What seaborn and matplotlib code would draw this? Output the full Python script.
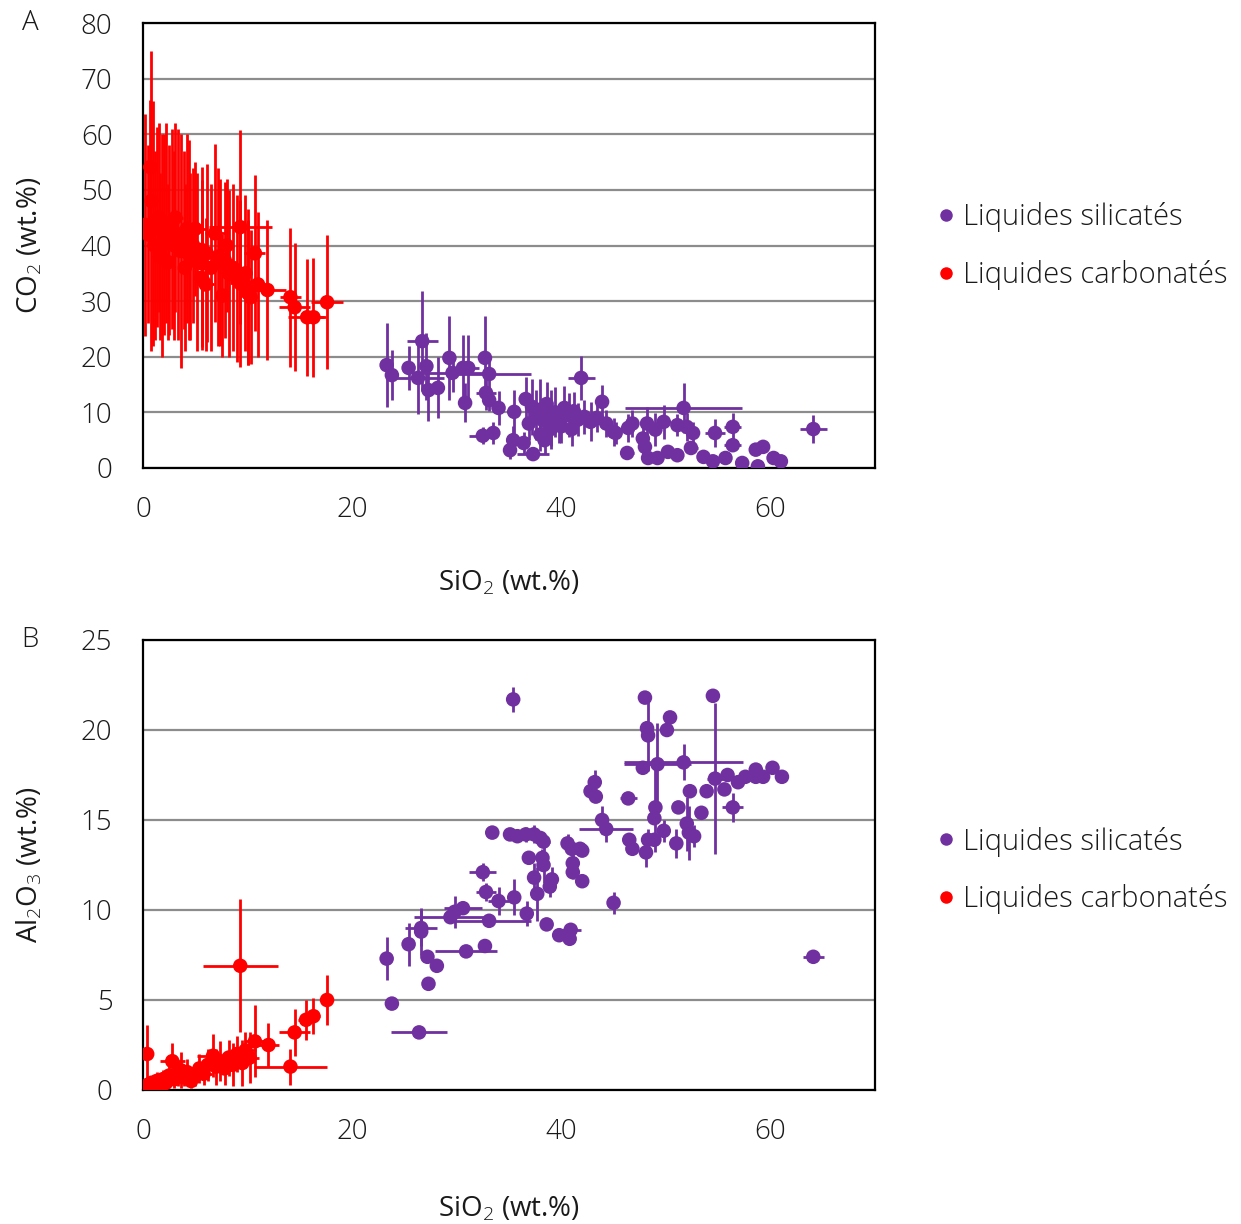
import matplotlib
matplotlib.use("Agg")
import matplotlib.pyplot as plt
from matplotlib.lines import Line2D
import seaborn as sns
import pandas as pd

# ---------------- Panel A : CO2 vs SiO2 ----------------
# silicate liquids
sil_a_sio2 = [23.3, 23.8, 25.4, 26.7, 26.3, 27.1, 27.3, 28.2, 29.3, 29.6, 30.6, 31.1, 30.8, 32.7, 33.1,
              32.8, 34.0, 35.5, 32.5, 33.5, 35.4, 35.1, 36.4, 37.3, 36.6, 41.9, 43.9, 45.2,
              37.2, 37.6, 38.0, 38.3, 38.6, 39.0, 39.4, 39.8, 40.3, 40.7, 41.2, 41.6, 42.2, 42.8, 43.4,
              44.3, 38.0, 38.4, 39.0, 36.9, 40.0, 41.0, 45.0, 46.4, 46.3, 46.8, 47.8, 48.2, 48.0, 48.3,
              49.2, 49.0, 49.8, 50.2, 51.1, 51.7, 51.1, 52.0, 52.6, 52.4, 53.6, 54.5, 54.7, 56.4, 56.4,
              55.7, 57.3, 58.8, 58.6, 59.3, 60.3, 61.0, 64.1, 33.1]
sil_a_co2 = [18.5, 16.7, 18.0, 22.8, 16.2, 18.3, 14.0, 14.4, 19.8, 17.1, 18.0, 18.0, 11.7, 19.8, 16.9,
             13.5, 10.8, 10.1, 5.8, 6.3, 5.0, 3.2, 4.5, 2.5, 12.4, 16.2, 11.9, 6.3,
             11.0, 9.5, 10.5, 8.5, 11.5, 9.0, 10.0, 8.0, 10.8, 9.5, 10.2, 8.7, 9.2, 8.3, 9.0,
             8.0, 6.0, 5.0, 7.0, 8.0, 7.5, 7.0, 6.5, 7.2, 2.7, 8.0, 5.3, 8.0, 3.8, 1.8,
             1.8, 6.9, 8.3, 2.9, 2.3, 10.8, 7.7, 7.4, 6.3, 3.6, 2.0, 1.2, 6.3, 7.4, 4.1,
             1.8, 0.9, 0.3, 3.3, 3.8, 1.8, 1.2, 7.0, 12.2]
sil_a_xerr = [0, 0, 0.5, 1.5, 2.5, 0, 0, 0.5, 0.5, 3.5, 0.5, 1.0, 0, 0.5, 4.0,
              1.0, 0, 0, 1.3, 0.5, 0, 0.5, 0.5, 1.5, 0, 1.3, 0, 0.5,
              0, 0, 0, 0, 0, 0, 0, 0, 0, 0, 0, 0, 0, 0, 0,
              0, 0.5, 0, 0, 0, 0, 0, 0, 0, 0.7, 0, 0, 0, 0, 0,
              0, 0, 0, 0, 0, 5.6, 0, 0, 0, 0.7, 0, 0, 1.0, 0.8, 0.8,
              0, 0, 0, 0.4, 0, 0, 0, 1.3, 0]
sil_a_yerr = [7.5, 4.5, 4.0, 9.0, 6.5, 6.0, 5.5, 5.5, 7.5, 3.5, 6.0, 6.0, 3.5, 7.5, 3.0,
              3.0, 3.0, 4.0, 1.5, 2.0, 2.5, 1.5, 2.0, 0.5, 4.0, 4.0, 3.0, 2.0,
              5.0, 4.5, 5.5, 4.0, 4.0, 5.0, 4.5, 3.5, 4.0, 4.0, 3.5, 3.0, 3.0, 3.5, 2.5,
              2.5, 3.0, 2.5, 3.5, 3.0, 3.0, 3.0, 2.5, 2.5, 0.5, 2.5, 3.0, 3.0, 1.5, 0.5,
              0.5, 3.0, 3.0, 0.5, 0.5, 4.5, 2.0, 2.5, 2.0, 1.0, 0.5, 0.5, 2.5, 2.5, 1.0,
              0.5, 0.3, 0.3, 0.8, 1.0, 0.3, 0.3, 2.5, 2.0]

# carbonate liquids
carb_a_sio2 = [0.2, 0.7, 0.8, 1.0, 1.3, 1.5, 1.8, 2.0, 2.2, 2.5, 2.8, 3.0, 3.3, 3.6, 3.9, 4.2, 4.5,
               4.8, 5.2, 5.6, 5.6, 5.6, 6.1, 6.5, 6.9, 7.2, 7.4, 7.8, 8.2, 8.6, 9.0, 9.3, 9.3, 9.8,
               10.0, 10.0, 10.3, 10.7, 11.0, 11.9, 14.1, 14.5, 15.7, 16.3, 17.6,
               0.5, 1.1, 1.6, 2.4, 3.1, 4.0, 4.4, 5.0, 8.0, 6.0, 7.6]
carb_a_co2 = [43.7, 54.1, 48.0, 44.0, 43.3, 45.0, 40.0, 42.0, 44.0, 41.0, 43.0, 40.0, 42.0, 39.0, 41.0,
              43.0, 38.0, 40.0, 37.0, 39.2, 36.8, 34.2, 38.6, 36.0, 42.2, 38.0, 36.9, 37.4, 35.0, 36.0,
              34.0, 33.2, 43.3, 35.0, 31.5, 32.5, 30.7, 38.6, 33.0, 32.0, 30.7, 28.9, 27.1, 27.1, 29.8,
              42.0, 40.0, 38.0, 37.0, 45.0, 36.0, 41.0, 43.0, 40.0, 33.0, 31.0]
carb_a_xerr = [0.3, 0.3, 0.5, 0.4, 0.5, 0.5, 0.5, 0.5, 0.6, 0.5, 0.6, 0.5, 0.6, 0.5, 0.7, 0.6, 0.5,
               0.8, 0.6, 0.8, 0.5, 0.7, 0.6, 0.7, 1.0, 0.6, 1.0, 0.8, 0.6, 0.7, 0.5, 1.0, 3.0, 0.6,
               0.8, 1.0, 0.5, 1.0, 0.5, 1.8, 1.0, 1.5, 1.8, 1.0, 1.5,
               0.5, 0.5, 0.6, 0.5, 0.7, 0.6, 0.7, 1.0, 0.7, 0.8, 0.6]
carb_a_yerr = [20, 12, 27, 22, 18, 17, 20, 18, 18, 17, 18, 17, 19, 21, 16, 17, 15,
               14, 16, 15, 15, 13, 16, 15, 16, 16, 15, 14, 15, 15, 15, 15, 17.5, 14,
               13, 14, 12, 14, 13, 12.6, 12.5, 11.5, 10.5, 10.7, 12,
               16, 17, 15, 14, 17, 15, 18, 12, 12, 12, 11]

# ---------------- Panel B : Al2O3 vs SiO2 ----------------
sil_b_sio2 = [33.4, 35.1, 35.8, 36.6, 37.4, 38.0, 38.3, 40.6, 41.0, 41.8, 44.3, 36.9, 38.2, 38.3, 41.1,
              41.1, 42.0, 32.5, 37.4, 39.1, 38.9, 37.7, 32.8, 34.0, 35.5, 36.7, 38.6, 39.8, 40.9, 40.8,
              33.1, 30.6, 29.4, 29.8, 26.6, 26.6, 25.4, 23.3, 27.2, 28.1, 27.3, 23.8, 26.4, 30.9, 32.7,
              45.0, 35.4, 64.1, 48.0, 54.5, 50.4, 50.1, 48.2, 48.3, 47.8, 49.2, 51.7, 54.7, 55.9, 56.9,
              57.6, 58.6, 58.6, 59.3, 60.2, 61.1, 52.3, 53.9, 55.6, 56.4, 51.2, 53.4, 46.4, 43.2, 42.8,
              43.3, 43.9, 49.0, 48.9, 49.8, 46.5, 46.8, 48.3, 48.9, 48.1, 51.0, 52.0, 52.2, 52.7, 42.0]
sil_b_al2o3 = [14.3, 14.2, 14.1, 14.2, 14.2, 14.0, 13.8, 13.7, 13.4, 13.4, 14.5, 12.9, 12.9, 12.5, 12.6,
               12.1, 11.6, 12.1, 11.8, 11.7, 11.3, 10.9, 11.0, 10.5, 10.7, 9.8, 9.2, 8.6, 8.9, 8.4,
               9.4, 10.1, 9.6, 9.9, 9.0, 8.8, 8.1, 7.3, 7.4, 6.9, 5.9, 4.8, 3.2, 7.7, 8.0,
               10.4, 21.7, 7.4, 21.8, 21.9, 20.7, 20.0, 20.1, 19.7, 17.9, 18.1, 18.2, 17.3, 17.5, 17.1,
               17.4, 17.8, 17.4, 17.4, 17.9, 17.4, 16.6, 16.6, 16.7, 15.7, 15.7, 15.4, 16.2, 17.1, 16.6,
               16.3, 15.0, 15.7, 15.1, 14.4, 13.9, 13.4, 13.9, 13.9, 13.2, 13.7, 14.8, 14.3, 14.1, 13.3]
sil_b_xerr = [0, 0.5, 0.5, 0.6, 0.6, 0.5, 0.6, 0.3, 0.5, 0.8, 2.6, 0, 0.3, 0.5, 0,
              0, 0, 1.3, 0.3, 0, 0.3, 0.3, 1.0, 1.0, 0, 0, 0, 0, 1.0, 0,
              4.0, 1.8, 3.5, 0.5, 1.5, 0.3, 0, 0, 0, 0, 0, 0, 2.7, 3.0, 0,
              0.5, 0, 1.0, 0, 0, 0, 0, 0, 0, 0, 3.2, 5.7, 0.8, 0, 0,
              0, 0, 0, 0, 0, 0, 0, 0, 0, 1.0, 0, 0, 0.8, 0, 0,
              0, 0, 0, 0, 0, 0, 0, 0, 0, 0, 0, 0, 0, 0, 0.6]
sil_b_yerr = [0, 0, 0.3, 0.4, 0.5, 0.3, 0, 0.5, 0, 0, 0.7, 0, 0.5, 1.0, 0.6,
              0.4, 0, 0.5, 0.8, 0.7, 0.6, 1.5, 0.5, 0.8, 1.0, 0.7, 0, 0, 0, 0,
              0, 0, 0.3, 0.9, 1.0, 1.3, 1.2, 1.2, 0, 0, 0, 0, 0, 0.2, 0,
              0.6, 0.7, 0.3, 0, 0, 0, 0, 0, 2.0, 0, 2.3, 1.0, 4.2, 0, 0,
              0, 0, 0, 0, 0, 0, 0, 0, 0, 0.8, 0, 0, 0.3, 0.7, 0,
              0, 0.8, 2.5, 0, 0.6, 0, 0, 0.6, 0, 0.8, 0.8, 1.5, 1.5, 0.6, 0]

carb_b_sio2 = [0.4, 0.5, 0.8, 1.0, 1.3, 1.6, 1.9, 2.2, 2.5, 2.8, 3.0, 3.3, 3.6, 3.9, 4.2, 4.6, 5.0,
               5.4, 5.8, 6.2, 6.7, 7.0, 7.4, 7.8, 8.2, 8.6, 9.0, 9.3, 9.5, 9.8, 10.2, 10.7, 12.0,
               14.1, 14.5, 15.6, 16.3, 17.6, 0.2, 1.2]
carb_b_al2o3 = [2.0, 0.3, 0.4, 0.2, 0.5, 0.3, 0.6, 0.4, 0.8, 1.6, 0.6, 0.9, 1.1, 0.7, 1.0, 0.5, 0.8,
                1.2, 0.9, 1.4, 1.9, 1.3, 1.6, 1.2, 1.8, 1.4, 2.0, 6.9, 1.5, 2.2, 1.8, 2.7, 2.5,
                1.3, 3.2, 3.9, 4.1, 5.0, 0.1, 0.1]
carb_b_xerr = [0.3, 0.4, 0.5, 0.5, 0.6, 0.5, 0.7, 0.6, 0.7, 1.2, 0.8, 0.7, 0.9, 0.8, 0.7, 0.8, 1.0,
               0.9, 0.8, 1.0, 1.5, 0.9, 1.0, 0.8, 1.2, 0.9, 1.0, 3.6, 0.8, 1.0, 0.9, 1.0, 1.0,
               3.5, 1.5, 0.8, 0.6, 0.5, 0.3, 0.4]
carb_b_yerr = [1.6, 0.3, 0.4, 0.3, 0.5, 0.3, 0.5, 0.4, 0.6, 1.0, 0.5, 0.7, 1.0, 0.5, 0.7, 0.4, 0.6,
               0.8, 0.6, 0.9, 1.2, 1.0, 1.1, 0.9, 1.0, 1.2, 1.0, 3.7, 1.3, 1.0, 1.4, 2.0, 1.2,
               1.0, 1.3, 1.1, 1.0, 1.4, 0.2, 0.2]

group_labels = ["Liquides silicatés", "Liquides carbonatés"]
group_colors = ["#7030A0", "#FF0000"]

sns.set_theme(style="white")
FONT = "Open Sans"
plt.rcParams["font.family"] = [FONT, "DejaVu Sans"]
plt.rcParams["font.weight"] = 300
plt.rcParams["mathtext.fontset"] = "custom"
plt.rcParams["mathtext.rm"] = f"{FONT}:light"
plt.rcParams["mathtext.it"] = f"{FONT}:light"
plt.rcParams["mathtext.default"] = "rm"

TXT = "#1a1a1a"
W, H = 1241, 1224
fig = plt.figure(figsize=(W / 100, H / 100), dpi=100)
left, right = 143 / W, 875 / W
axA = fig.add_axes([left, 1 - 468 / H, right - left, 445 / H])
axB = fig.add_axes([left, 1 - 1090 / H, right - left, 450 / H])

FS = 20


def frame(x, y, xe, ye, grp):
    return pd.DataFrame({"x": x, "y": y, "xe": xe, "ye": ye, "group": grp})


panels = [
    (axA, [frame(sil_a_sio2, sil_a_co2, sil_a_xerr, sil_a_yerr, group_labels[0]),
           frame(carb_a_sio2, carb_a_co2, carb_a_xerr, carb_a_yerr, group_labels[1])],
     (0, 80), range(0, 81, 10), "CO$_2$ (wt.%)", "A", -0.228, 0.499),
    (axB, [frame(sil_b_sio2, sil_b_al2o3, sil_b_xerr, sil_b_yerr, group_labels[0]),
           frame(carb_b_sio2, carb_b_al2o3, carb_b_xerr, carb_b_yerr, group_labels[1])],
     (0, 25), range(0, 26, 5), "Al$_2$O$_3$ (wt.%)", "B", -0.233, 0.488),
]

for ax, frames, ylim, yticks, ylabel, letter, xlab_y, leg_y in panels:
    data = pd.concat(frames, ignore_index=True)
    for lab, col in zip(group_labels, group_colors):
        d = data[data["group"] == lab]
        ax.errorbar(d["x"], d["y"], xerr=d["xe"], yerr=d["ye"], fmt="none",
                    ecolor=col, elinewidth=2.0, capsize=0, zorder=2)
    sns.scatterplot(data=data, x="x", y="y", hue="group", hue_order=group_labels,
                    palette=group_colors, s=110, linewidth=0, legend=False, ax=ax, zorder=3)

    ax.set_xlim(0, 70)
    ax.set_ylim(*ylim)
    ax.set_xticks([0, 20, 40, 60])
    ax.set_yticks(list(yticks))
    ax.yaxis.grid(True, color="#8c8c8c", linewidth=1.6)
    ax.set_axisbelow(True)
    for s in ax.spines.values():
        s.set_color("black")
        s.set_linewidth(1.6)
    ax.tick_params(axis="both", direction="in", length=6, width=1.4, color="black",
                   labelsize=FS, pad=20, labelcolor=TXT)
    ax.tick_params(axis="y", pad=22)
    ax.set_xlabel("SiO$_2$ (wt.%)", fontsize=FS, color=TXT)
    ax.set_ylabel(ylabel, fontsize=FS, color=TXT)
    ax.xaxis.set_label_coords(0.5, xlab_y)
    ax.yaxis.set_label_coords(-0.135, 0.5)

    handles = [Line2D([0], [0], marker="o", linestyle="none", markersize=9,
                      markerfacecolor=c, markeredgewidth=0) for c in group_colors]
    ax.legend(handles, group_labels, loc="center left", bbox_to_anchor=(1.067, leg_y),
              frameon=False, fontsize=21, handlelength=0.5, handletextpad=0.35,
              labelspacing=0.95, borderpad=0, labelcolor=TXT)

    pos = ax.get_position()
    fig.text(30 / W, pos.y1, letter, fontsize=FS, ha="center", va="center", color=TXT)

fig.savefig("out.png", dpi=100)
